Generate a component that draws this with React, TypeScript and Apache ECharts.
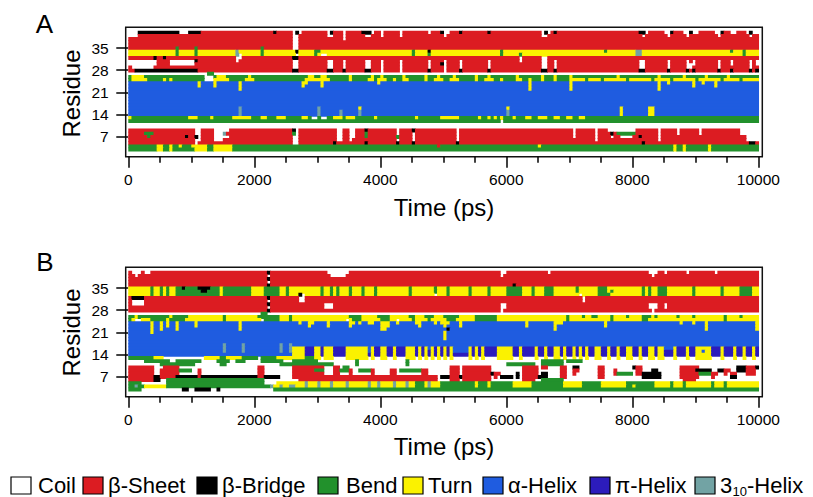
import React, { useEffect, useRef } from "react";
import * as echarts from "echarts";

// DSSP states: C coil, E beta-sheet, B beta-bridge, S bend, T turn, H alpha, I pi, G 3-10
const STATE_CODES = ["C", "E", "B", "S", "T", "H", "I", "G"];
const STATE_COLORS = ["#ffffff", "#dc1c22", "#000000", "#22912c", "#fbf200", "#1f5ce0", "#2c1cbc", "#72a3a4"];
const LEGEND_LABELS = ["Coil", "β-Sheet", "β-Bridge", "Bend", "Turn", "α-Helix", "π-Helix", "3-10-Helix"];

const FRAME_PS = 50;
const N_FRAMES = 200;
const N_RESIDUES = 41;
const X_MAJOR_TICKS = [0, 2000, 4000, 6000, 8000, 10000];
const X_MINOR_TICKS = [500, 1000, 1500, 2500, 3000, 3500, 4500, 5000, 5500, 6500, 7000, 7500, 8500, 9000, 9500];
const Y_TICKS = [7, 14, 21, 28, 35];

// Row specs, residue 41 first, residue 1 last. "base:Xa-b,..." (frame columns of 50 ps)
const PANEL_A_ROWS: string[] = [
  "C",
  "E:C0-22,B3-15,B19-22,B46,C52-54,B53,C63-64,B64,C68,B74-76,C77,C80,C86,C95,B99,C100-101,B105,B114,C131-133,B132,B135,B162-163,C164,C170-171,B172,C176-177,B178,C179-180,C186-187,B188,C191-192,C196-198,B197,C199",
  "E:C0-2,C52-53,C63-64,C68,C75-76,C80,C86,C100,C131-132,C163,C171,C177,C187,C197",
  "E:C52-53,C68",
  "E:C52-53",
  "E:C52-53",
  "E:C52-53,S15,S21,S42",
  "T:S15,S21,G34,S42,B53,S59-60,S90,B95,S118,S151,G161-162,S191,S195",
  "T:S15,S21,G34,C35,S42,C53,S59,C61-62,S90,S95,S118,S124,G161-162,S195",
  "E:B8,B11,C34-35,B52-53,C124,C131-132",
  "E:C0-8,C13-20,B21,C34,C52-53,C63-64,C68,C75-76,C80,C86,C95,C100,C105,C114,C124,C131-132,C135,C162-163,C171,C177,C179,C187,C191,C197,C199",
  "E:C0-8,C13-20,C52-53,C63-64,C68,C75-76,C80,C86,C95,B99,C100,C105,C114,C131-132,C135,C162-163,C171,C177-178,C179,C187,C191,C197,C199",
  "E:C1-7,C52-53,C63-64,C68,C75-76,C80,C86,C95,C100,C105,C114,C131-132,C135,C162-163,C171,C177-178,C187,C197",
  "E:B2-21,B52-53,B63-64,B68,B75-76,C80,C86,B95,C100,B105,B114,B131-132,B135,B162-163,B171,B177,B179,B187,B191,B197,B199",
  "C:S25-26",
  "S:T1-4,C24-26,T28-30,T38,T57-58,T61-62,T70,T77,T80,T87,T94,T98,T103,T110,T114,T123,T131,T135,T140,T155,T168,T176,T183,T190",
  "S:T1-5,T11,T13,C24-26,T27-31,T37-39,T56-63,T70,T76-77,T79-81,T84,T87-88,T94,T97-99,T102-104,T110,T113-115,T118,T123-124,T127,T131,T135,T140-199,S145,S150,S158,S166,S172,S180,S188,S194",
  "H:T22,T27,T35,T55-56,T61,T79,T127,T140,T168,T171,T179,T182,T186",
  "H:T22,T27,T35,T55,T61,T127,T140,T168,T179,T186",
  "H:T35,T127,T140,T168",
  "H",
  "H",
  "H",
  "H",
  "H",
  "H:G35,G60,T73,T120,T156,T165-166",
  "H:G35,G60,G67,G73,G120,T156,T165-166",
  "H:G35,G60,G67,G73,G120,T156,T165-166",
  "S:T0,T19-21,T26,T33-38,T42-43,T47-49,T55-56,C58-59,C61-62,T65-67,T69-71,T78,T91,T99-104,T111,T114,T116,T118,T122,T126-127,T130-132,T135-136,T139-140,T143-144",
  "S:C118",
  "C",
  "C",
  "E:C21-22,C27-31,B52,C53,C66-67,C70-71,B75,C85,B90,C104,C141,C148,C152-154,C155-160,C168,C174,C181,C194-199",
  "E:S5-7,C21-22,C27-29,G30,S52,C53,C66-67,C70-71,S75,C85,C90,C104,C141,C148,B153,S155-160,C168,C174,C181,C194-199",
  "E:S6,B18,B21,C22,C27-31,C52-53,C66-67,C70-71,S75,S85,C90,C104,C141,C148,C153,C156-159,B162,C168,C196-199",
  "E:C21-22,C27-29,C52-53,C66-67,C70,C85,C90,C104,C148,C168,C196-199",
  "E:C21,C52-53,B65,B75,B85,B90,B104,B163,B197-198",
  "S:T9-10,T13,T16,T20-24,T27-32,E98,T130,T173,T176,T184",
  "S:T9-10,T13,T21-24,T27-32,T173,T176,T184",
  "C",
  "C",
];

const PANEL_B_ROWS: string[] = [
  "C",
  "E:C1-3,C5-6,B44,C63-69,C118-119,C133,C165-167,C170,C177,C186",
  "E:C2,C44,C64-68,C118,C166",
  "E:B44",
  "E:C44",
  "E:B44,B122",
  "T:S7,S10,S12,S15-20,B17,S21-28,B22-25,S30-38,S43-47,S50,S61,S64,S66,S70,S74,S78,S89,S97,S101,S108,S114,S120-124,S128,S132-134,S142,S149-151,S163,S165,S168-170,S179,S188,S194-197",
  "T:S7,S10,S12,S15-20,S21-28,B23-24,S30-38,S43-47,S50,S61,S64,S66,S70,S74,S78,S89,S97,S101,S108,S114,S120-124,S128,S132-134,S142,S149-151,S153,S163,S165,S168-170,S179,S188,S194-197",
  "T:S7,S10,S12,S15-20,S21-28,S30-38,S43-47,S50,B54,C55,S61,S64,S66,S70,S74,S78,S89,C97,S101,S108,S114,S120-124,S128,S132-134,C143,S149-151,S152,S163,S165,S168-170,S179,S188,S194-197",
  "E:B1-4,B44,C54-55,C144",
  "E:C1-4,C44,C54-55,C144",
  "E:C1-4,B44,C62-64,C118-119,C165-167,C170",
  "E:C44,C62-64,C118-119,C165-167,C170",
  "E:B44,C118,C166",
  "C:S42-43",
  "T:S0-1,S3-7,S8-12,S14-18,S30,S41-47,S51,S70-73,S79-82,S89-90,S94-96,S100-104,S110-116,S139,S144,S147-148,S153,S158,S163-165,S167,S174,S179,S189,S194",
  "T:S0,C2-3,S7-9,S10-11,S13-17,S30,C42,S43-47,S51,C69,S71-73,S80-82,C85,S90,S95,S101-103,S110-116,S139,S153,S163-164,S189",
  "H:T7,T10,T12,T15,T21,T35,T54,T57-58,T63,T70-71,T73,T76-77,T80-82,T85,T91-92,T97,T99-101,T105,T126,T135-137,T151,T175,T179,T183,T199",
  "H:T7,T10,T12,T15,T21,T35,T57,T63,T70,T80-82,T92,T100,T105,T126,T135,T151,T183,T199",
  "H:T7,T10,T15,T35,T80-81,B101,T135,T183,T199",
  "H:T7,T100",
  "H:T100",
  "H:T100",
  "H",
  "H:G30,G36,G48,G51",
  "H:G30,G36,G48,G51,T52-55,I56-58,T59-60,I61,T62-64,I65-68,T69-75,H76,T77,I78-79,T80-81,I82-83,T84,I85-87,T88-90,I91,T92,I93,T94,H95,T96,I97,T98,I99,T100,I101,T102,H103-107,T108,I109,T110,I111,T112,I113-116,T117-121,I122-123,T124,I125-128,T129,I130-131,T132,I133-134,T135-136,I137,T138,I139-140,T141,I142,T143,I144,T145,I146-147,T148-149,I150-151,T152,I153-154,T155,I156-157,T158-159,I160-161,T162,I163-164,T165-166,I167,T168-169,H170-172,T173,I174-176,T177,I178-179,T180-184,I185-187,T188,I189-191,T192,I193-194,T195,I196-197,T198,I199",
  "H:G30,G36,G48,G51,T52-55,I56-58,T59-60,I61,T62-64,I65-68,T69-75,H76,T77,I78-79,T80-81,I82-83,T84,I85-87,T88-90,I91,T92,I93,T94,I95,T96,I97,T98,I99,T100,I101,T102,H103-107,T108,I109,T110,I111,T112,I113-116,T117-121,I122-123,T124,I125-128,T129,I130-131,T132,I133-134,T135-136,I137,T138,I139-140,T141,I142,T143,I144,T145,I146-147,T148-149,I150-151,T152,I153-154,T155,I156-157,T158-159,I160-161,T162,I163-164,T165-166,I167,T168-169,I170-172,T173,I174-176,T177,I178-179,T180-181,H182,T183-184,I185-187,T188,I189-191,T192,I193-194,T195,I196-197,T198,I199",
  "H:T52-55,I56-58,T59-60,I61,T62-64,I65-68,T69-75,I76,T77,I78-79,T80-81,I82-83,T84,I85-87,T88-90,I91,T92,I93,T94,I95,T96,I97,T98,I99,T100,I101,T102,I103-107,T108,I109,T110,I111,T112,I113-116,T117-121,I122-123,T124,I125-128,T129,I130-131,T132,I133-134,T135-136,I137,T138,I139-140,T141,I142,T143,I144,T145,I146-147,T148-149,I150-151,T152,I153-154,T155,I156-157,T158-159,I160-161,T162,I163-164,T165-166,I167,T168-169,I170-172,T173,I174-176,T177,I178-179,T180-184,I185-187,T188,I189-191,T192,I193-194,T195,I196-197,T198,I199",
  "C:S0-7,T8-10,T24-28,S29-30,T31-35,S36-40,S42-46,T47-51,T52-55,S56-58,T59-60,T62-64,T69-75,T77,T80-81,T84,T88-90,T92,T94,T96,T98,T100,T102,T108,T110,T112,T117-121,T124,T129,T132,T135-136,T138,T141,T143,T145,T148-149,T152,T155,T158-159,T162,T165-166,T168-169,T173,T177,T180-184,T188,T192,T195,T198",
  "C:S5-12,S15-22,S28-31,S34-36,S42-48,S52-59,S72,S88,S131-137,S139-143",
  "C:S10-20,S29-30,S48-64,S72,S88,S120-128,S131-137",
  "C:E0-7,E11-15,E41-42,E52-61,E65-66,S68-69,E102-104,E106-114,E125-129,E131-132,E137-138,B141-142,E149-150,B160,E161-162,E175-180,B193-195,E196-198,B199",
  "C:E0-7,E10,E11-15,S16-19,E22,E41-42,E52-61,S59-61,E65-66,S67-69,E70,S73-76,E77,E83-84,S86-92,E93-94,E102-104,E106-114,E125-129,E137-138,E141-142,E149-150,E154,E161-162,B166-167,E175-180,B180-184,B187-188,E189-190,B193-195,E196-198",
  "C:E0-7,E10,E11-15,E22,E41-42,E52-61,E65-66,E70,E77,E83-84,E93-94,E102-104,E106-114,B115,E116-117,B123,E125-129,B131-132,E137-138,E141,E149-150,E154,S155-159,E161-162,B163-168,E175-180,S181-185,E185-186,E189,E191-192,E196-198",
  "C:E0-7,B8-9,E10,E11-14,B15-40,E22,E41-42,B43-47,E52-97,B99-101,E102-104,B105,E106-114,E116,B118-121,B123,E125-129,B130-132,E137-138,E149-150,B163-168,E175-180,E185,B191-192",
  "C:E0-7,B8-9,S12-42,E54-97,E102-104,E106-114,E125-128,S131-137,E176-179",
  "C:S0-3,S12-42,T47-53,T54-98,G56,G60,G64,G69,G76,G79,G84,G88,S91-93,G95,S99-137,T110,T114,T122-127,T138-143,S144-149,T150-157,S158-166,T167-180,S172,S176,T181-193,S185,S189,T194-199",
  "T:S0-4,G2,S12-44,G45,G48,G51,G52,G56,G60,G64,G69,G76,G79,G84,G88,S91-93,G95,S99-137,T110,T114,T122-127,S144-149,S158-166,T160,S172,S176,S185,S189",
  "C:S0-3,B17-18,B21-25,B28,S46-199",
  "C",
  "C",
];

function expandRow(spec: string): string[] {
  const parts = spec.split(":");
  const arr: string[] = new Array(N_FRAMES).fill(parts[0]);
  if (parts[1]) {
    parts[1].split(",").forEach((tok) => {
      const m = tok.trim().match(/^([A-Z])(\d+)(?:-(\d+))?$/);
      if (!m) return;
      const s = parseInt(m[2], 10);
      const e = m[3] ? parseInt(m[3], 10) : s;
      for (let c = s; c <= Math.min(e, N_FRAMES - 1); c++) arr[c] = m[1];
    });
  }
  return arr;
}

function buildRuns(rows: string[]): number[][] {
  const out: number[][] = [];
  rows.forEach((spec, i) => {
    const residue = N_RESIDUES - i;
    const arr = expandRow(spec);
    let start = 0;
    for (let c = 1; c <= N_FRAMES; c++) {
      if (c === N_FRAMES || arr[c] !== arr[start]) {
        const st = STATE_CODES.indexOf(arr[start]);
        if (st > 0) out.push([start * FRAME_PS, c * FRAME_PS, residue, st]);
        start = c;
      }
    }
  });
  return out;
}

const FONT = "'Liberation Sans', Arial, Helvetica, sans-serif";

export default function App() {
  const ref = useRef<HTMLDivElement>(null);

  useEffect(() => {
    if (!ref.current) return;
    const chart = echarts.init(ref.current, undefined, { renderer: "svg" });

    const renderCell = (_params: any, api: any) => {
      const t0 = api.value(0);
      const t1 = api.value(1);
      const r = api.value(2);
      const s = api.value(3);
      const a = api.coord([t0, r + 0.5]);
      const b = api.coord([t1, r - 0.5]);
      return {
        type: "rect",
        shape: { x: a[0], y: a[1], width: b[0] - a[0] + 0.7, height: b[1] - a[1] + 0.8 },
        style: { fill: STATE_COLORS[s] },
      };
    };

    const gridTops = [27.3, 267.3];
    const plainNum = (v: number) => String(Math.round(v));
    const majorX = (g: number) => ({
      gridIndex: g,
      type: "value",
      position: "bottom",
      min: -41,
      max: 10063,
      axisLine: { show: false },
      splitLine: { show: false },
      axisTick: { show: true, customValues: X_MAJOR_TICKS, length: 11, lineStyle: { color: "#000", width: 1.5 } },
      axisLabel: {
        show: true,
        customValues: X_MAJOR_TICKS,
        formatter: plainNum,
        fontSize: 15.5,
        color: "#000",
        margin: 15,
        fontFamily: FONT,
      },
    });
    const minorX = (g: number) => ({
      gridIndex: g,
      type: "value",
      position: "bottom",
      min: -41,
      max: 10063,
      axisLine: { show: false },
      splitLine: { show: false },
      axisTick: { show: true, customValues: X_MINOR_TICKS, length: 6, lineStyle: { color: "#000", width: 1.5 } },
      axisLabel: { show: false },
    });
    const yAx = (g: number) => ({
      gridIndex: g,
      type: "value",
      min: 0.6,
      max: 41.6,
      axisLine: { show: false },
      splitLine: { show: false },
      axisTick: { show: true, customValues: Y_TICKS, length: 12, lineStyle: { color: "#000", width: 1.5 } },
      axisLabel: {
        show: true,
        customValues: Y_TICKS,
        formatter: plainNum,
        fontSize: 15.5,
        color: "#000",
        margin: 17,
        fontFamily: FONT,
      },
    });

    const txt = (text: string, x: number, y: number, size: number, align = "center", rotation = 0) => ({
      type: "text",
      x,
      y,
      rotation,
      style: {
        text,
        fontSize: size,
        fontFamily: FONT,
        fill: "#000",
        align,
        verticalAlign: "middle",
        textAlign: align,
        textVerticalAlign: "middle",
      },
    });

    const LEGEND_BOX_X = [11, 83, 197, 318, 403, 483, 590, 695];
    const LEGEND_TEXT_X = [38, 108, 222, 346, 428, 508, 615, 720];
    const legendEls: any[] = [];
    LEGEND_LABELS.forEach((label, i) => {
      legendEls.push({
        type: "rect",
        shape: { x: LEGEND_BOX_X[i], y: 477, width: 20, height: 17 },
        style: { fill: STATE_COLORS[i], stroke: "#000", lineWidth: 1.2 },
      });
      if (label === "3-10-Helix") {
        legendEls.push(txt("3", LEGEND_TEXT_X[i], 485, 22, "left"));
        legendEls.push(txt("10", LEGEND_TEXT_X[i] + 12.5, 491, 13, "left"));
        legendEls.push(txt("-Helix", LEGEND_TEXT_X[i] + 27, 485, 22, "left"));
      } else {
        legendEls.push(txt(label, LEGEND_TEXT_X[i], 485, 22, "left"));
      }
    });

    chart.setOption({
      animation: false,
      textStyle: { fontFamily: FONT },
      grid: gridTops.map((top) => ({
        left: 125.7,
        top,
        width: 636.6,
        height: 129.4,
        show: true,
        borderColor: "#111",
        borderWidth: 1.5,
        backgroundColor: "transparent",
      })),
      xAxis: [majorX(0), minorX(0), majorX(1), minorX(1)],
      yAxis: [yAx(0), yAx(1)],
      series: [
        {
          type: "custom",
          xAxisIndex: 0,
          yAxisIndex: 0,
          data: buildRuns(PANEL_A_ROWS),
          renderItem: renderCell,
          encode: { x: [0, 1], y: 2 },
          clip: true,
          silent: true,
        },
        {
          type: "custom",
          xAxisIndex: 2,
          yAxisIndex: 1,
          data: buildRuns(PANEL_B_ROWS),
          renderItem: renderCell,
          encode: { x: [0, 1], y: 2 },
          clip: true,
          silent: true,
        },
      ],
      graphic: [
        txt("A", 44.5, 24, 26),
        txt("B", 45, 262, 26),
        txt("Time (ps)", 444, 207, 24),
        txt("Time (ps)", 444, 446, 24),
        txt("Residue", 71, 93.5, 24, "center", Math.PI / 2),
        txt("Residue", 71, 332.5, 24, "center", Math.PI / 2),
        ...legendEls,
      ],
    });

    return () => chart.dispose();
  }, []);

  return <div ref={ref} style={{ position: "absolute", left: 0, top: 0, width: 813, height: 497 }} />;
}
